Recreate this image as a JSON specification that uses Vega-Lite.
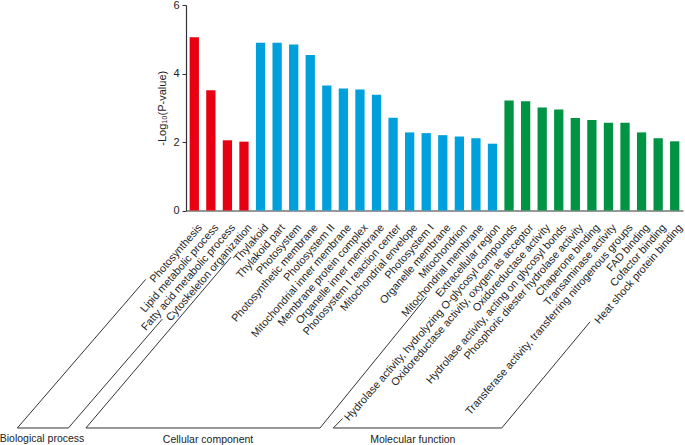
{
  "$schema": "https://vega.github.io/schema/vega-lite/v6.json",
  "width": 497,
  "height": 205.5,
  "autosize": {"type": "none"},
  "padding": {"left": 186, "top": 5, "right": 2, "bottom": 234.5},
  "background": "white",
  "config": {
    "view": {"stroke": null},
    "font": "Liberation Sans",
    "axis": {"labelFont": "Liberation Sans", "titleFont": "Liberation Sans"}
  },
  "datasets": {
    "terms": [
      {"term": "Photosynthesis", "category": "Biological process", "value": 5.06},
      {"term": "Lipid metabolic process", "category": "Biological process", "value": 3.51},
      {"term": "Fatty acid metabolic process", "category": "Biological process", "value": 2.05},
      {"term": "Cytoskeleton organization", "category": "Biological process", "value": 2.01},
      {"term": "Thylakoid", "category": "Cellular component", "value": 4.9},
      {"term": "Thylakoid part", "category": "Cellular component", "value": 4.9},
      {"term": "Photosystem", "category": "Cellular component", "value": 4.85},
      {"term": "Photosynthetic membrane", "category": "Cellular component", "value": 4.54},
      {"term": "Photosystem II", "category": "Cellular component", "value": 3.65},
      {"term": "Mitochondrial inner membrane", "category": "Cellular component", "value": 3.56},
      {"term": "Membrane protein complex", "category": "Cellular component", "value": 3.53},
      {"term": "Organelle inner membrane", "category": "Cellular component", "value": 3.38},
      {"term": "Photosystem I reaction center", "category": "Cellular component", "value": 2.71},
      {"term": "Mitochondrial envelope", "category": "Cellular component", "value": 2.28},
      {"term": "Photosystem I", "category": "Cellular component", "value": 2.26},
      {"term": "Organelle membrane", "category": "Cellular component", "value": 2.2},
      {"term": "Mitochondrion", "category": "Cellular component", "value": 2.16},
      {"term": "Mitochondrial membrane", "category": "Cellular component", "value": 2.11},
      {"term": "Extracellular region", "category": "Cellular component", "value": 1.95},
      {"term": "Hydrolase activity, hydrolyzing O-glycosyl compounds", "category": "Molecular function", "value": 3.21},
      {"term": "Oxidoreductase activity, oxygen as acceptor", "category": "Molecular function", "value": 3.19},
      {"term": "Oxidoreductase activity", "category": "Molecular function", "value": 3.01},
      {"term": "Hydrolase activity, acting on glycosyl bonds", "category": "Molecular function", "value": 2.95},
      {"term": "Phosphoric diester hydrolase activity", "category": "Molecular function", "value": 2.7},
      {"term": "Chaperone binding", "category": "Molecular function", "value": 2.64},
      {"term": "Transaminase activity", "category": "Molecular function", "value": 2.56},
      {"term": "Transferase activity, transferring nitrogenous groups", "category": "Molecular function", "value": 2.56},
      {"term": "FAD binding", "category": "Molecular function", "value": 2.28},
      {"term": "Cofactor binding", "category": "Molecular function", "value": 2.11},
      {"term": "Heat shock protein binding", "category": "Molecular function", "value": 2.02}
    ],
    "brackets": [
      {"x1": -10.18, "y1": -6.35, "x2": -2.43, "y2": -2.01},
      {"x1": -10.18, "y1": -6.35, "x2": -7.1, "y2": -6.35},
      {"x1": -7.1, "y1": -6.35, "x2": -1.43, "y2": -3.17},
      {"x1": -6.04, "y1": -6.35, "x2": 2.72, "y2": -1.36},
      {"x1": -6.04, "y1": -6.35, "x2": 8.09, "y2": -6.35},
      {"x1": 8.09, "y1": -6.35, "x2": 14.53, "y2": -2.52},
      {"x1": 8.89, "y1": -6.35, "x2": 9.46, "y2": -6.07},
      {"x1": 8.89, "y1": -6.35, "x2": 19.06, "y2": -6.35},
      {"x1": 19.06, "y1": -6.35, "x2": 24.39, "y2": -3.25}
    ],
    "groups": [
      {"label": "Biological process", "gx": -8.69, "gy": -6.67},
      {"label": "Cellular component", "gx": 1.33, "gy": -6.7},
      {"label": "Molecular function", "gx": 13.69, "gy": -6.7}
    ]
  },
  "layer": [
    {
      "data": {"name": "terms"},
      "mark": {"type": "bar"},
      "encoding": {
        "x": {
          "field": "term", "type": "nominal", "sort": null,
          "scale": {"paddingInner": 0.44, "paddingOuter": 0.22},
          "axis": {
            "title": null, "labelAngle": -49, "labelAlign": "right", "labelBaseline": "top",
            "ticks": false, "tickSize": 0, "labelPadding": 11, "labelOffset": 1.5,
            "domainColor": "#333333", "domainWidth": 1.2,
            "labelFontSize": 10.8, "labelColor": "#222222", "labelLimit": 0, "labelOverlap": false
          }
        },
        "y": {
          "field": "value", "type": "quantitative",
          "scale": {"domain": [0, 6], "nice": false},
          "axis": {
            "values": [0, 2, 4, 6], "grid": false, "title": "-Log₁₀(P-value)",
            "titleFontWeight": "normal", "titleFontSize": 11, "titleColor": "#222222", "titlePadding": 5,
            "labelFontSize": 11, "labelColor": "#222222", "labelPadding": 3,
            "tickSize": 4, "tickColor": "#333333", "domainColor": "#333333", "domainWidth": 1.2
          }
        },
        "color": {
          "field": "category", "type": "nominal",
          "scale": {"domain": ["Biological process", "Cellular component", "Molecular function"], "range": ["#e60012", "#00a0dc", "#009343"]},
          "legend": null
        }
      }
    },
    {
      "data": {"name": "brackets"},
      "mark": {"type": "rule", "color": "#333333", "strokeWidth": 1},
      "encoding": {
        "x": {"field": "x1", "type": "quantitative", "scale": {"domain": [0, 30], "nice": false, "zero": false}, "axis": null},
        "x2": {"field": "x2"},
        "y": {"field": "y1", "type": "quantitative", "scale": {"domain": [0, 6], "nice": false}, "title": "-Log₁₀(P-value)"},
        "y2": {"field": "y2"}
      }
    },
    {
      "data": {"name": "groups"},
      "mark": {"type": "text", "fontSize": 10.5, "color": "#222222", "align": "center", "baseline": "middle"},
      "encoding": {
        "x": {"field": "gx", "type": "quantitative", "scale": {"domain": [0, 30], "nice": false, "zero": false}, "axis": null},
        "y": {"field": "gy", "type": "quantitative", "scale": {"domain": [0, 6], "nice": false}, "title": "-Log₁₀(P-value)"},
        "text": {"field": "label"}
      }
    }
  ],
  "resolve": {"scale": {"x": "independent"}, "axis": {"x": "independent"}}
}
